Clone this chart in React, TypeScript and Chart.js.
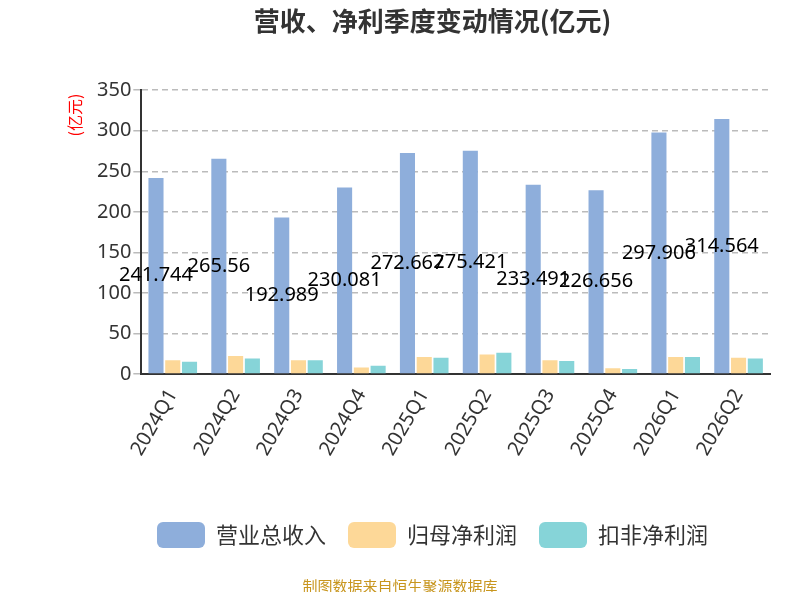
import React, { useEffect, useRef } from "react";
import Chart from "chart.js/auto";

const categories = ["2024Q1","2024Q2","2024Q3","2024Q4","2025Q1","2025Q2","2025Q3","2025Q4","2026Q1","2026Q2"];
const revenue = [241.744,265.56,192.989,230.081,272.667,275.421,233.491,226.656,297.906,314.564];
const netProfit = [17,22,17,8,21,24,17,7,21,20];
const deductedProfit = [15,19,17,10,20,26,16,6,21,19];
const yTicks = [0,50,100,150,200,250,300,350];

const labelPlugin = {
  id: "labels",
  afterDatasetsDraw(chart: any) {
    const ctx = chart.ctx;
    const meta = chart.getDatasetMeta(0);
    ctx.save();
    ctx.font = "20px 'Noto Sans', sans-serif";
    ctx.fillStyle = "#000";
    ctx.textAlign = "center";
    ctx.textBaseline = "middle";
    meta.data.forEach((bar: any, i: number) => {
      const y = (bar.y + bar.base) / 2;
      ctx.fillText(String(revenue[i]), bar.x, y);
    });
    ctx.translate(75, 115);
    ctx.rotate(-Math.PI / 2);
    ctx.fillStyle = "red";
    ctx.font = "16px 'Noto Sans CJK SC', sans-serif";
    ctx.fillText("(亿元)", 0, 0);
    ctx.restore();
  },
};

export default function App() {
  const ref = useRef<HTMLCanvasElement>(null);
  useEffect(() => {
    const chart = new Chart(ref.current!, {
      type: "bar",
      data: {
        labels: categories,
        datasets: [
          { label: "营业总收入", data: revenue, backgroundColor: "#8eaedb" },
          { label: "归母净利润", data: netProfit, backgroundColor: "#fdd898" },
          { label: "扣非净利润", data: deductedProfit, backgroundColor: "#86d4d8" },
        ],
      },
      options: {
        animation: false,
        responsive: false,
        layout: { padding: { left: 95, right: 30, bottom: 42 } },
        plugins: {
          title: {
            display: true,
            text: "营收、净利季度变动情况(亿元)",
            font: { size: 26, weight: "bold", family: "'Noto Sans CJK SC', sans-serif" },
            color: "#333",
            padding: { top: 6, bottom: 53 },
          },
          legend: {
            position: "bottom",
            labels: {
              boxWidth: 48, boxHeight: 26, useBorderRadius: true, borderRadius: 6,
              font: { size: 22, family: "'Noto Sans CJK SC', sans-serif" }, color: "#333", padding: 22,
            },
          },
          tooltip: { enabled: false },
        },
        scales: {
          x: {
            grid: { display: false },
            border: { color: "#333", width: 2 },
            afterFit: (s: any) => { s.height += 37; },
            ticks: { maxRotation: 60, minRotation: 60, color: "#333", font: { size: 20, family: "'Noto Sans', sans-serif" } },
            categoryPercentage: 0.9, barPercentage: 0.95,
          },
          y: {
            min: 0, max: 350,
            afterBuildTicks: (s: any) => { s.ticks = yTicks.map((v) => ({ value: v })); },
            grid: { color: "#bbb", lineWidth: 1.5, tickLength: 8 },
            border: { display: true, color: "#333", width: 2, dash: [6, 4] },
            ticks: { color: "#333", font: { size: 20, family: "'Noto Sans', sans-serif" }, padding: 2 },
          },
        },
      } as any,
      plugins: [labelPlugin],
    });
    return () => chart.destroy();
  }, []);
  return (
    <div style={{ position: "relative", width: 800, height: 600, margin: -8 }}>
      <canvas ref={ref} width={800} height={600} />
      <div style={{ position: "absolute", top: 576, width: 800, textAlign: "center", color: "#c8961e", fontSize: 15, lineHeight: "20px", fontFamily: "'Noto Sans CJK SC', sans-serif" }}>
        制图数据来自恒生聚源数据库
      </div>
    </div>
  );
}
